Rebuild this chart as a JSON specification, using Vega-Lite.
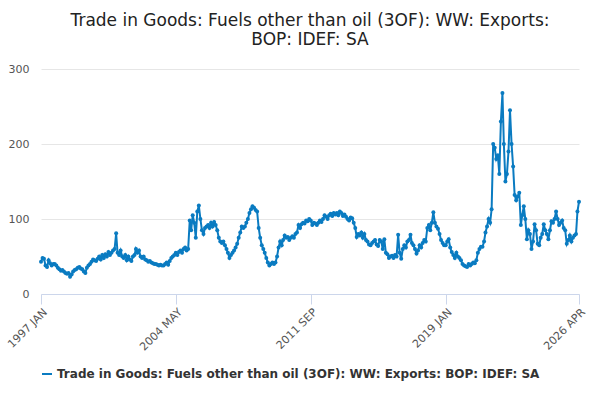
{
  "$schema": "https://vega.github.io/schema/vega-lite/v6.json",
  "width": 538,
  "height": 225,
  "padding": {"left": 5, "top": 12, "right": 12, "bottom": 5},
  "title": {
    "text": ["Trade in Goods: Fuels other than oil (3OF): WW: Exports:", "BOP: IDEF: SA"],
    "fontSize": 17, "fontWeight": "normal", "color": "#222", "font": "DejaVu Sans", "anchor": "middle", "offset": 14
  },
  "data": {"values": [
{"d":"1997-01-01","v":43},{"d":"1997-02-01","v":48},{"d":"1997-03-01","v":47},{"d":"1997-04-01","v":38},{"d":"1997-05-01","v":36},{"d":"1997-06-01","v":45},{"d":"1997-07-01","v":41},{"d":"1997-08-01","v":38},{"d":"1997-09-01","v":40},{"d":"1997-10-01","v":40},{"d":"1997-11-01","v":38},{"d":"1997-12-01","v":35},
{"d":"1998-01-01","v":33},{"d":"1998-02-01","v":31},{"d":"1998-03-01","v":32},{"d":"1998-04-01","v":30},{"d":"1998-05-01","v":28},{"d":"1998-06-01","v":27},{"d":"1998-07-01","v":28},{"d":"1998-08-01","v":23},{"d":"1998-09-01","v":26},{"d":"1998-10-01","v":30},{"d":"1998-11-01","v":32},{"d":"1998-12-01","v":33},
{"d":"1999-01-01","v":35},{"d":"1999-02-01","v":36},{"d":"1999-03-01","v":34},{"d":"1999-04-01","v":33},{"d":"1999-05-01","v":30},{"d":"1999-06-01","v":28},{"d":"1999-07-01","v":35},{"d":"1999-08-01","v":38},{"d":"1999-09-01","v":40},{"d":"1999-10-01","v":43},{"d":"1999-11-01","v":46},{"d":"1999-12-01","v":45},
{"d":"2000-01-01","v":44},{"d":"2000-02-01","v":47},{"d":"2000-03-01","v":50},{"d":"2000-04-01","v":46},{"d":"2000-05-01","v":52},{"d":"2000-06-01","v":48},{"d":"2000-07-01","v":53},{"d":"2000-08-01","v":50},{"d":"2000-09-01","v":56},{"d":"2000-10-01","v":52},{"d":"2000-11-01","v":55},{"d":"2000-12-01","v":58},
{"d":"2001-01-01","v":60},{"d":"2001-02-01","v":81},{"d":"2001-03-01","v":55},{"d":"2001-04-01","v":52},{"d":"2001-05-01","v":58},{"d":"2001-06-01","v":50},{"d":"2001-07-01","v":48},{"d":"2001-08-01","v":52},{"d":"2001-09-01","v":45},{"d":"2001-10-01","v":50},{"d":"2001-11-01","v":46},{"d":"2001-12-01","v":44},
{"d":"2002-01-01","v":50},{"d":"2002-02-01","v":52},{"d":"2002-03-01","v":60},{"d":"2002-04-01","v":55},{"d":"2002-05-01","v":58},{"d":"2002-06-01","v":50},{"d":"2002-07-01","v":48},{"d":"2002-08-01","v":50},{"d":"2002-09-01","v":46},{"d":"2002-10-01","v":45},{"d":"2002-11-01","v":43},{"d":"2002-12-01","v":44},
{"d":"2003-01-01","v":42},{"d":"2003-02-01","v":41},{"d":"2003-03-01","v":40},{"d":"2003-04-01","v":40},{"d":"2003-05-01","v":39},{"d":"2003-06-01","v":38},{"d":"2003-07-01","v":39},{"d":"2003-08-01","v":38},{"d":"2003-09-01","v":38},{"d":"2003-10-01","v":40},{"d":"2003-11-01","v":42},{"d":"2003-12-01","v":39},
{"d":"2004-01-01","v":44},{"d":"2004-02-01","v":48},{"d":"2004-03-01","v":50},{"d":"2004-04-01","v":52},{"d":"2004-05-01","v":55},{"d":"2004-06-01","v":52},{"d":"2004-07-01","v":56},{"d":"2004-08-01","v":58},{"d":"2004-09-01","v":55},{"d":"2004-10-01","v":60},{"d":"2004-11-01","v":62},{"d":"2004-12-01","v":58},
{"d":"2005-01-01","v":60},{"d":"2005-02-01","v":98},{"d":"2005-03-01","v":85},{"d":"2005-04-01","v":105},{"d":"2005-05-01","v":95},{"d":"2005-06-01","v":75},{"d":"2005-07-01","v":110},{"d":"2005-08-01","v":118},{"d":"2005-09-01","v":100},{"d":"2005-10-01","v":85},{"d":"2005-11-01","v":80},{"d":"2005-12-01","v":88},
{"d":"2006-01-01","v":90},{"d":"2006-02-01","v":92},{"d":"2006-03-01","v":88},{"d":"2006-04-01","v":95},{"d":"2006-05-01","v":90},{"d":"2006-06-01","v":96},{"d":"2006-07-01","v":92},{"d":"2006-08-01","v":85},{"d":"2006-09-01","v":75},{"d":"2006-10-01","v":70},{"d":"2006-11-01","v":68},{"d":"2006-12-01","v":70},
{"d":"2007-01-01","v":65},{"d":"2007-02-01","v":60},{"d":"2007-03-01","v":55},{"d":"2007-04-01","v":48},{"d":"2007-05-01","v":52},{"d":"2007-06-01","v":55},{"d":"2007-07-01","v":58},{"d":"2007-08-01","v":62},{"d":"2007-09-01","v":67},{"d":"2007-10-01","v":75},{"d":"2007-11-01","v":82},{"d":"2007-12-01","v":90},
{"d":"2008-01-01","v":88},{"d":"2008-02-01","v":90},{"d":"2008-03-01","v":95},{"d":"2008-04-01","v":100},{"d":"2008-05-01","v":108},{"d":"2008-06-01","v":113},{"d":"2008-07-01","v":117},{"d":"2008-08-01","v":115},{"d":"2008-09-01","v":112},{"d":"2008-10-01","v":110},{"d":"2008-11-01","v":88},{"d":"2008-12-01","v":75},
{"d":"2009-01-01","v":65},{"d":"2009-02-01","v":60},{"d":"2009-03-01","v":55},{"d":"2009-04-01","v":48},{"d":"2009-05-01","v":42},{"d":"2009-06-01","v":38},{"d":"2009-07-01","v":40},{"d":"2009-08-01","v":42},{"d":"2009-09-01","v":40},{"d":"2009-10-01","v":42},{"d":"2009-11-01","v":50},{"d":"2009-12-01","v":62},
{"d":"2010-01-01","v":70},{"d":"2010-02-01","v":65},{"d":"2010-03-01","v":72},{"d":"2010-04-01","v":78},{"d":"2010-05-01","v":75},{"d":"2010-06-01","v":76},{"d":"2010-07-01","v":72},{"d":"2010-08-01","v":75},{"d":"2010-09-01","v":77},{"d":"2010-10-01","v":75},{"d":"2010-11-01","v":80},{"d":"2010-12-01","v":82},
{"d":"2011-01-01","v":92},{"d":"2011-02-01","v":88},{"d":"2011-03-01","v":93},{"d":"2011-04-01","v":95},{"d":"2011-05-01","v":94},{"d":"2011-06-01","v":98},{"d":"2011-07-01","v":97},{"d":"2011-08-01","v":100},{"d":"2011-09-01","v":98},{"d":"2011-10-01","v":92},{"d":"2011-11-01","v":95},{"d":"2011-12-01","v":94},
{"d":"2012-01-01","v":92},{"d":"2012-02-01","v":95},{"d":"2012-03-01","v":98},{"d":"2012-04-01","v":96},{"d":"2012-05-01","v":100},{"d":"2012-06-01","v":105},{"d":"2012-07-01","v":103},{"d":"2012-08-01","v":100},{"d":"2012-09-01","v":105},{"d":"2012-10-01","v":107},{"d":"2012-11-01","v":104},{"d":"2012-12-01","v":108},
{"d":"2013-01-01","v":106},{"d":"2013-02-01","v":108},{"d":"2013-03-01","v":105},{"d":"2013-04-01","v":110},{"d":"2013-05-01","v":108},{"d":"2013-06-01","v":104},{"d":"2013-07-01","v":106},{"d":"2013-08-01","v":103},{"d":"2013-09-01","v":100},{"d":"2013-10-01","v":98},{"d":"2013-11-01","v":102},{"d":"2013-12-01","v":101},
{"d":"2014-01-01","v":95},{"d":"2014-02-01","v":88},{"d":"2014-03-01","v":76},{"d":"2014-04-01","v":80},{"d":"2014-05-01","v":78},{"d":"2014-06-01","v":82},{"d":"2014-07-01","v":75},{"d":"2014-08-01","v":80},{"d":"2014-09-01","v":72},{"d":"2014-10-01","v":70},{"d":"2014-11-01","v":66},{"d":"2014-12-01","v":65},
{"d":"2015-01-01","v":68},{"d":"2015-02-01","v":70},{"d":"2015-03-01","v":72},{"d":"2015-04-01","v":66},{"d":"2015-05-01","v":64},{"d":"2015-06-01","v":72},{"d":"2015-07-01","v":70},{"d":"2015-08-01","v":60},{"d":"2015-09-01","v":73},{"d":"2015-10-01","v":55},{"d":"2015-11-01","v":53},{"d":"2015-12-01","v":48},
{"d":"2016-01-01","v":50},{"d":"2016-02-01","v":51},{"d":"2016-03-01","v":48},{"d":"2016-04-01","v":52},{"d":"2016-05-01","v":50},{"d":"2016-06-01","v":79},{"d":"2016-07-01","v":55},{"d":"2016-08-01","v":47},{"d":"2016-09-01","v":60},{"d":"2016-10-01","v":65},{"d":"2016-11-01","v":62},{"d":"2016-12-01","v":70},
{"d":"2017-01-01","v":72},{"d":"2017-02-01","v":79},{"d":"2017-03-01","v":68},{"d":"2017-04-01","v":65},{"d":"2017-05-01","v":60},{"d":"2017-06-01","v":54},{"d":"2017-07-01","v":58},{"d":"2017-08-01","v":65},{"d":"2017-09-01","v":62},{"d":"2017-10-01","v":68},{"d":"2017-11-01","v":72},{"d":"2017-12-01","v":70},
{"d":"2018-01-01","v":88},{"d":"2018-02-01","v":92},{"d":"2018-03-01","v":85},{"d":"2018-04-01","v":95},{"d":"2018-05-01","v":109},{"d":"2018-06-01","v":95},{"d":"2018-07-01","v":90},{"d":"2018-08-01","v":87},{"d":"2018-09-01","v":80},{"d":"2018-10-01","v":72},{"d":"2018-11-01","v":68},{"d":"2018-12-01","v":65},
{"d":"2019-01-01","v":65},{"d":"2019-02-01","v":70},{"d":"2019-03-01","v":73},{"d":"2019-04-01","v":62},{"d":"2019-05-01","v":56},{"d":"2019-06-01","v":52},{"d":"2019-07-01","v":48},{"d":"2019-08-01","v":55},{"d":"2019-09-01","v":50},{"d":"2019-10-01","v":48},{"d":"2019-11-01","v":45},{"d":"2019-12-01","v":40},
{"d":"2020-01-01","v":38},{"d":"2020-02-01","v":37},{"d":"2020-03-01","v":36},{"d":"2020-04-01","v":40},{"d":"2020-05-01","v":38},{"d":"2020-06-01","v":40},{"d":"2020-07-01","v":42},{"d":"2020-08-01","v":41},{"d":"2020-09-01","v":45},{"d":"2020-10-01","v":55},{"d":"2020-11-01","v":60},{"d":"2020-12-01","v":63},
{"d":"2021-01-01","v":63},{"d":"2021-02-01","v":70},{"d":"2021-03-01","v":82},{"d":"2021-04-01","v":90},{"d":"2021-05-01","v":100},{"d":"2021-06-01","v":95},{"d":"2021-07-01","v":113},{"d":"2021-08-01","v":200},{"d":"2021-09-01","v":195},{"d":"2021-10-01","v":180},{"d":"2021-11-01","v":185},{"d":"2021-12-01","v":160},
{"d":"2022-01-01","v":230},{"d":"2022-02-01","v":268},{"d":"2022-03-01","v":200},{"d":"2022-04-01","v":150},{"d":"2022-05-01","v":160},{"d":"2022-06-01","v":190},{"d":"2022-07-01","v":245},{"d":"2022-08-01","v":200},{"d":"2022-09-01","v":170},{"d":"2022-10-01","v":132},{"d":"2022-11-01","v":125},{"d":"2022-12-01","v":130},
{"d":"2023-01-01","v":135},{"d":"2023-02-01","v":92},{"d":"2023-03-01","v":105},{"d":"2023-04-01","v":117},{"d":"2023-05-01","v":100},{"d":"2023-06-01","v":73},{"d":"2023-07-01","v":85},{"d":"2023-08-01","v":80},{"d":"2023-09-01","v":60},{"d":"2023-10-01","v":70},{"d":"2023-11-01","v":93},{"d":"2023-12-01","v":85},
{"d":"2024-01-01","v":67},{"d":"2024-02-01","v":65},{"d":"2024-03-01","v":75},{"d":"2024-04-01","v":80},{"d":"2024-05-01","v":93},{"d":"2024-06-01","v":85},{"d":"2024-07-01","v":80},{"d":"2024-08-01","v":73},{"d":"2024-09-01","v":85},{"d":"2024-10-01","v":97},{"d":"2024-11-01","v":95},{"d":"2024-12-01","v":100},
{"d":"2025-01-01","v":110},{"d":"2025-02-01","v":100},{"d":"2025-03-01","v":92},{"d":"2025-04-01","v":95},{"d":"2025-05-01","v":98},{"d":"2025-06-01","v":88},{"d":"2025-07-01","v":85},{"d":"2025-08-01","v":67},{"d":"2025-09-01","v":72},{"d":"2025-10-01","v":78},{"d":"2025-11-01","v":70},{"d":"2025-12-01","v":75},
{"d":"2026-01-01","v":78},{"d":"2026-02-01","v":80},{"d":"2026-03-01","v":110},{"d":"2026-04-01","v":123}
  ]},
  "transform": [{"calculate": "'Trade in Goods: Fuels other than oil (3OF): WW: Exports: BOP: IDEF: SA'", "as": "series"}],
  "mark": {"type": "line", "strokeWidth": 2, "point": {"size": 16, "filled": true}},
  "encoding": {
    "x": {
      "field": "d", "type": "temporal", "title": null,
      "scale": {"type": "utc", "domain": [{"year": 1997, "month": 1, "date": 1, "utc": true}, {"year": 2026, "month": 4, "date": 1, "utc": true}]},
      "axis": {
        "values": [
          {"year": 1997, "month": 1, "date": 1, "utc": true},
          {"year": 2004, "month": 5, "date": 1, "utc": true},
          {"year": 2011, "month": 9, "date": 1, "utc": true},
          {"year": 2019, "month": 1, "date": 1, "utc": true},
          {"year": 2026, "month": 4, "date": 1, "utc": true}
        ],
        "labelExpr": "upper(utcFormat(datum.value, '%Y %b'))",
        "labelAngle": -45, "labelAlign": "right", "labelBaseline": "top",
        "labelFontSize": 11, "labelColor": "#555", "labelFont": "DejaVu Sans",
        "grid": false, "domainColor": "#ccd6eb", "tickColor": "#ccd6eb", "tickSize": 10, "labelPadding": 2
      }
    },
    "y": {
      "field": "v", "type": "quantitative", "title": null,
      "scale": {"domain": [0, 300]},
      "axis": {"values": [0, 100, 200, 300], "domain": false, "ticks": false, "gridColor": "#e6e6e6",
        "labelFontSize": 11, "labelColor": "#555", "labelFont": "DejaVu Sans", "labelPadding": 12}
    },
    "color": {
      "field": "series", "type": "nominal",
      "scale": {"range": ["#0a7bc1"]},
      "legend": {"orient": "bottom", "title": null, "labelFontSize": 12, "labelFontWeight": "bold",
        "labelColor": "#333", "labelFont": "DejaVu Sans", "labelLimit": 600, "symbolType": "stroke", "symbolStrokeWidth": 2, "offset": 15}
    }
  },
  "config": {"view": {"stroke": null}}
}
